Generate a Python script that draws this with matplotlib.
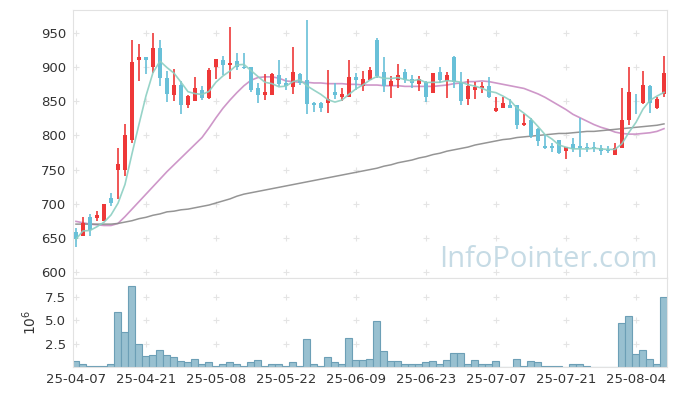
import matplotlib.pyplot as plt
import numpy as np
import pandas as pd

# daily prices (index = trading day)
opens = [659, 653, 681, 679, 675, 708, 749, 749, 793, 910, 915, 901, 929, 885, 860, 874, 844, 850, 867, 855,
         900, 911, 904, 909, 901, 900, 870, 860, 860, 889, 877, 871, 890, 881, 847, 847, 847, 864, 857, 856,
         886, 873, 882, 940, 893, 872, 881, 893, 883, 876, 878, 863, 893, 880, 915, 879, 853, 866, 870, 873,
         836, 840, 845, 844, 815, 823, 810, 784, 784, 793, 777, 788, 784, 783, 783, 782, 779, 771, 782, 823,
         851, 847, 873, 841, 861]
highs = [665, 680, 685, 689, 700, 715, 781, 817, 940, 934, 915, 950, 940, 894, 898, 880, 860, 886, 873, 899,
         912, 917, 959, 921, 921, 900, 877, 890, 891, 910, 885, 930, 892, 970, 849, 849, 896, 877, 870, 910,
         892, 895, 900, 943, 915, 887, 905, 897, 888, 887, 880, 891, 900, 893, 917, 893, 883, 879, 878, 886,
         857, 857, 853, 845, 832, 825, 811, 800, 789, 793, 783, 796, 826, 789, 791, 786, 784, 789, 869, 900,
         861, 895, 874, 857, 917]
lows = [637, 653, 652, 674, 675, 697, 707, 741, 789, 880, 890, 892, 872, 849, 851, 832, 840, 850, 852, 854,
        883, 889, 883, 896, 897, 864, 848, 852, 859, 872, 867, 861, 874, 832, 835, 834, 833, 853, 851, 856,
        867, 865, 881, 884, 864, 855, 870, 877, 870, 865, 849, 863, 877, 855, 869, 844, 845, 853, 862, 855,
        835, 840, 841, 810, 814, 797, 784, 780, 776, 773, 766, 776, 768, 776, 776, 772, 775, 771, 781, 816,
        832, 846, 833, 839, 857]
closes = [648, 672, 662, 683, 699, 701, 758, 800, 908, 915, 910, 928, 884, 861, 874, 844, 858, 870, 855, 896,
          912, 904, 906, 900, 899, 867, 860, 864, 890, 876, 872, 893, 877, 846, 844, 841, 854, 860, 861, 886,
          881, 883, 896, 887, 872, 880, 889, 882, 877, 883, 857, 891, 882, 889, 879, 850, 873, 871, 873, 857,
          840, 848, 841, 815, 819, 799, 792, 782, 782, 775, 783, 780, 782, 781, 781, 777, 777, 782, 823, 864,
          850, 874, 847, 854, 891]
# volume in millions of shares
volume = [0.67, 0.35, 0.21, 0.21, 0.21, 0.42, 5.82, 3.74, 8.61, 2.47, 1.2, 1.3, 1.84, 1.3, 1.06, 0.67, 0.56,
          0.85, 0.35, 0.56, 0.21, 0.42, 0.56, 0.35, 0.21, 0.56, 0.78, 0.21, 0.42, 0.35, 0.14, 0.56, 0.21, 2.97,
          0.35, 0.21, 1.16, 0.56, 0.32, 3.07, 0.78, 0.78, 0.85, 4.87, 1.73, 0.67, 0.67, 0.32, 0.42, 0.32, 0.56,
          0.67, 0.42, 0.78, 1.52, 1.52, 0.42, 0.78, 0.32, 0.32, 0.67, 0.07, 0.07, 0.85, 0.21, 0.67, 0.56, 0.21,
          0.21, 0.21, 0.07, 0.32, 0.42, 0.21, 0.07, 0.07, 0.07, 0.07, 4.66, 5.4, 1.38, 1.9, 0.85, 0.42, 7.41]
# longer moving averages (need history before the first shown day)
ma20 = [674, 672, 670, 669, 668, 668, 671, 681, 692, 703, 714, 725, 736, 747, 757, 767, 777, 787, 797, 811,
        826, 840, 852, 863, 873, 881, 885, 886, 886, 884, 880, 879, 878, 878, 877, 877, 876, 876, 876, 875,
        875, 874, 874, 874, 873, 873, 873, 872, 872, 872, 872, 872, 873, 874, 876, 877, 879, 879, 880, 879,
        877, 875, 873, 871, 869, 865, 861, 856, 850, 844, 838, 831, 826, 821, 816, 812, 809, 805, 803, 802,
        802, 803, 804, 806, 810]
ma60 = [670, 670, 670, 670, 670, 670, 671, 673, 675, 678, 680, 683, 685, 688, 689, 691, 692, 694, 696, 698,
        701, 704, 707, 711, 714, 716, 718, 720, 722, 724, 726, 728, 730, 732, 734, 736, 738, 740, 742, 744,
        746, 748, 750, 752, 755, 757, 760, 762, 764, 767, 769, 772, 774, 777, 779, 781, 783, 786, 788, 790,
        792, 794, 795, 797, 798, 799, 800, 801, 802, 803, 803, 804, 805, 806, 806, 807, 808, 809, 810, 811,
        812, 813, 814, 815, 817]
date_labels = ['25-04-07', '25-04-21', '25-05-08', '25-05-22', '25-06-09',
               '25-06-23', '25-07-07', '25-07-21', '25-08-04']

df = pd.DataFrame({'open': opens, 'high': highs, 'low': lows, 'close': closes})
ma5 = df['close'].rolling(5, min_periods=1).mean()
x = np.arange(len(df))

up_color = '#ee3838'
down_color = '#68c0d8'
grid_color = '#e4e4e4'

fig = plt.figure(figsize=(6.77, 3.96), dpi=100)
ax = fig.add_axes([0.1078, 0.298, 0.8774, 0.6767])
axv = fig.add_axes([0.1078, 0.072, 0.8774, 0.226], sharex=ax)

colors = [up_color if c >= o else down_color for o, c in zip(df['open'], df['close'])]
ax.vlines(x, df['low'], df['high'], colors=colors, linewidth=1.2, zorder=3)
body_bottom = np.minimum(df['open'], df['close'])
body_height = np.maximum(np.abs(df['close'] - df['open']), 1.2)
ax.bar(x, body_height, bottom=body_bottom, width=0.62, color=colors, zorder=3)

ax.plot(x, ma5, color='#8ccfc2', linewidth=1.2, alpha=0.9, zorder=4)
ax.plot(x, ma20, color='#c98cc3', linewidth=1.2, alpha=0.9, zorder=2)
ax.plot(x, ma60, color='#8a8a8a', linewidth=1.1, alpha=0.9, zorder=2)

ax.text(0.985, 0.015, 'InfoPointer.com', transform=ax.transAxes, ha='right', va='bottom',
        fontsize=21, color='#c6dbe5', family='Open Sans', zorder=1)

axv.bar(x, volume, width=1.0, color='#98c0d0', edgecolor='#6c9fb6', linewidth=0.8)

ax.set_xlim(-0.43, len(df) - 0.57)
ax.set_ylim(591, 984)
axv.set_ylim(0, 9.46)

yt = np.arange(600, 951, 50)
ax.set_yticks(yt)
axv.set_yticks([2.5, 5.0, 7.5])
axv.set_yticklabels(['2.5', '5.0', '7.5'])
xt = np.arange(0, len(df), 10)
axv.set_xticks(xt)
axv.set_xticklabels(date_labels)
axv.set_ylabel(r'$10^6$', fontsize=10, color='#333333', labelpad=4)

# little "+" marks at grid crossings
gx, gy = np.meshgrid(xt, yt)
ax.scatter(gx.ravel(), gy.ravel(), marker='+', s=14, color=grid_color, linewidths=0.8, zorder=0)
gx, gy = np.meshgrid(xt, [2.5, 5.0, 7.5])
axv.scatter(gx.ravel(), gy.ravel(), marker='+', s=14, color=grid_color, linewidths=0.8, zorder=0)

for a in (ax, axv):
    for s in a.spines.values():
        s.set_color('#e2e2e2')
    a.tick_params(length=0, colors='#333333', pad=5)
ax.tick_params(axis='y', labelsize=9.5)
ax.tick_params(axis='x', labelbottom=False)
axv.tick_params(axis='y', labelsize=9.5)
axv.tick_params(axis='x', labelsize=9.5, pad=4)

fig.savefig('out.png', dpi=100)
